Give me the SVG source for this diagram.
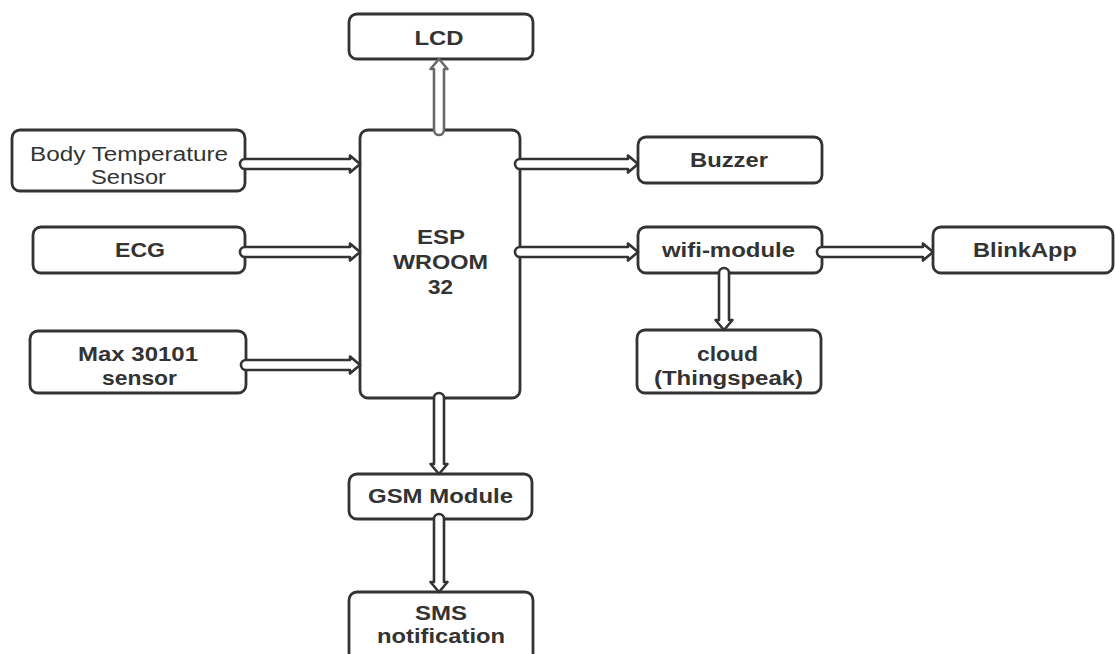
<svg xmlns="http://www.w3.org/2000/svg" width="1115" height="654" viewBox="0 0 1115 654">
<style>
.box{fill:#fff;stroke:#333;stroke-width:2.8}
.t{font-family:"Liberation Sans",Arial,sans-serif;font-size:20px;font-weight:bold;fill:#333;text-anchor:middle}
.r{font-weight:normal}
.arr{fill:#fff;stroke:#333;stroke-width:2.6;stroke-linejoin:round}
.gray{stroke:#6a6a6a}
</style>
<rect width="1115" height="654" fill="#fff"/>
<g id="lcd"><rect class="box" x="349" y="14" width="184" height="45" rx="8"/><text class="t" x="439" y="45" textLength="49" lengthAdjust="spacingAndGlyphs">LCD</text></g>
<g id="body-temp"><rect class="box" x="12" y="130" width="233" height="61" rx="8"/><text class="t r" x="129" y="161" textLength="198" lengthAdjust="spacingAndGlyphs">Body Temperature</text><text class="t r" x="128.5" y="184" textLength="75" lengthAdjust="spacingAndGlyphs">Sensor</text></g>
<g id="ecg"><rect class="box" x="33" y="227" width="212" height="46" rx="8"/><text class="t" x="140" y="257" textLength="50" lengthAdjust="spacingAndGlyphs">ECG</text></g>
<g id="max"><rect class="box" x="30" y="331" width="216" height="62" rx="8"/><text class="t" x="138" y="361" textLength="120" lengthAdjust="spacingAndGlyphs">Max 30101</text><text class="t" x="139.5" y="385" textLength="75" lengthAdjust="spacingAndGlyphs">sensor</text></g>
<g id="esp"><rect class="box" x="360" y="130" width="160" height="268" rx="8"/><text class="t" x="441" y="244" textLength="48" lengthAdjust="spacingAndGlyphs">ESP</text><text class="t" x="440.5" y="269" textLength="95" lengthAdjust="spacingAndGlyphs">WROOM</text><text class="t" x="440.5" y="294" textLength="25" lengthAdjust="spacingAndGlyphs">32</text></g>
<g id="buzzer"><rect class="box" x="638" y="137" width="184" height="46" rx="8"/><text class="t" x="729" y="167" textLength="78" lengthAdjust="spacingAndGlyphs">Buzzer</text></g>
<g id="wifi"><rect class="box" x="638" y="227" width="184" height="46" rx="8"/><text class="t" x="728.5" y="257" textLength="133" lengthAdjust="spacingAndGlyphs">wifi-module</text></g>
<g id="blinkapp"><rect class="box" x="933" y="227" width="180" height="46" rx="8"/><text class="t" x="1025" y="257" textLength="104" lengthAdjust="spacingAndGlyphs">BlinkApp</text></g>
<g id="cloud"><rect class="box" x="637" y="330" width="184" height="63" rx="8"/><text class="t" x="727.5" y="361" textLength="61" lengthAdjust="spacingAndGlyphs">cloud</text><text class="t" x="728.5" y="385" textLength="149" lengthAdjust="spacingAndGlyphs">(Thingspeak)</text></g>
<g id="gsm"><rect class="box" x="349" y="474" width="183" height="45" rx="8"/><text class="t" x="440.5" y="503" textLength="145" lengthAdjust="spacingAndGlyphs">GSM Module</text></g>
<g id="sms"><rect class="box" x="349" y="592" width="184" height="72" rx="8"/><text class="t" x="441" y="620" textLength="52" lengthAdjust="spacingAndGlyphs">SMS</text><text class="t" x="441" y="643" textLength="128" lengthAdjust="spacingAndGlyphs">notification</text></g>
<g id="connectors">
<path class="arr" d="M245 159 H350 V155.5 L360 164 L350 172.5 V169 H245 A5 5 0 0 1 245 159 Z"/>
<path class="arr" d="M245 247 H350 V243.5 L360 252 L350 260.5 V257 H245 A5 5 0 0 1 245 247 Z"/>
<path class="arr" d="M246 360 H350 V356.5 L360 365 L350 373.5 V370 H246 A5 5 0 0 1 246 360 Z"/>
<path class="arr" d="M520 159 H628 V155.5 L638 164 L628 172.5 V169 H520 A5 5 0 0 1 520 159 Z"/>
<path class="arr" d="M520 247 H628 V243.5 L638 252 L628 260.5 V257 H520 A5 5 0 0 1 520 247 Z"/>
<path class="arr" d="M822 247 H923 V243.5 L933 252 L923 260.5 V257 H822 A5 5 0 0 1 822 247 Z"/>
<path class="arr gray" d="M434 130 V69 H430.5 L439 59 L447.5 69 H444 V130 A5 5 0 0 1 434 130 Z"/>
<path class="arr" d="M719 273 V320 H715.5 L724 330 L732.5 320 H729 V273 A5 5 0 0 0 719 273 Z"/>
<path class="arr" d="M434 398 V464 H430.5 L439 474 L447.5 464 H444 V398 A5 5 0 0 0 434 398 Z"/>
<path class="arr" d="M434 519 V582 H430.5 L439 592 L447.5 582 H444 V519 A5 5 0 0 0 434 519 Z"/>
</g>
</svg>
